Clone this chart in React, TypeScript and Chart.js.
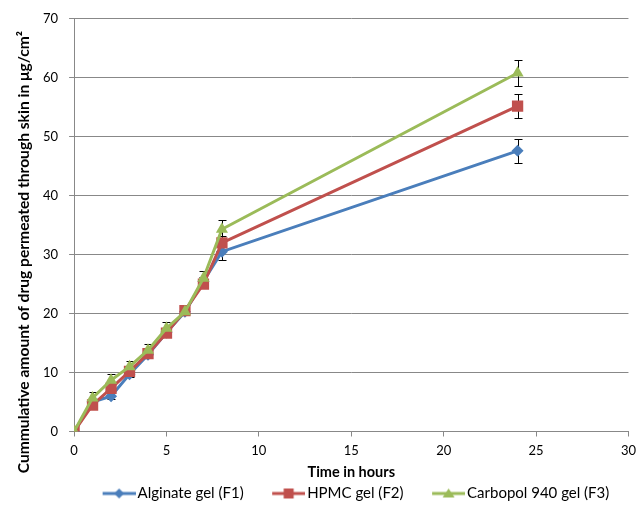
import React, { useEffect, useRef } from "react";
import { Chart, registerables } from "chart.js";

Chart.register(...registerables);

const hours = [0, 1, 2, 3, 4, 5, 6, 7, 8, 24];
const alginate = [0, 5.0, 6.0, 9.7, 13.0, 16.8, 20.3, 25.5, 30.5, 47.6];
const hpmc = [0, 4.5, 7.3, 10.2, 13.2, 16.7, 20.5, 25.0, 32.0, 55.2];
const carbopol = [0, 5.7, 8.7, 11.0, 13.8, 17.5, 20.3, 26.0, 34.3, 60.8];
const alginateErr = [0, 0.5, 0.5, 0.5, 0.5, 0.6, 0.5, 0.7, 1.4, 2.0];
const hpmcErr = [0, 0.5, 0.5, 0.5, 0.5, 0.6, 0.5, 0.7, 1.2, 2.0];
const carbopolErr = [0, 1.0, 1.0, 1.0, 1.0, 1.0, 0.6, 1.2, 1.6, 2.2];
const seriesNames = ["Alginate gel (F1)", "HPMC gel (F2)", "Carbopol 940 gel (F3)"];
const xTitle = "Time in hours";
const yTitle = "Cummulative amount of drug permeated through skin in μg/cm²";

const COLORS = ["#4A7EBB", "#C0504D", "#9BBB59"];
const STYLES = ["rectRot", "rect", "triangle"];
const RADII = [6, 8, 7];
const FONT = "Lato, 'Open Sans', sans-serif";

const BOX_W = 52;
const ICON_W = 63;
const ICON_VIS = 33;

function legendIcon(color: string, style: string): HTMLCanvasElement {
  const c = document.createElement("canvas");
  c.width = ICON_W;
  c.height = 14;
  const g = c.getContext("2d")!;
  const x0 = ICON_W - ICON_VIS;
  g.strokeStyle = color;
  g.fillStyle = color;
  g.lineWidth = 3;
  g.beginPath();
  g.moveTo(x0, 7);
  g.lineTo(ICON_W, 7);
  g.stroke();
  g.beginPath();
  const m = x0 + ICON_VIS / 2;
  if (style === "rectRot") {
    g.moveTo(m, 2);
    g.lineTo(m + 5, 7);
    g.lineTo(m, 12);
    g.lineTo(m - 5, 7);
  } else if (style === "rect") {
    g.rect(m - 5, 2, 10, 10);
  } else {
    g.moveTo(m, 2);
    g.lineTo(m + 6, 11);
    g.lineTo(m - 6, 11);
  }
  g.closePath();
  g.fill();
  return c;
}

const errorBars = {
  id: "errorBars",
  beforeDatasetsDraw(chart: any) {
    const errs = [alginateErr, hpmcErr, carbopolErr];
    const ctx = chart.ctx;
    const xs = chart.scales.x;
    const ys = chart.scales.y;
    ctx.save();
    ctx.strokeStyle = "#000";
    ctx.lineWidth = 1;
    chart.data.datasets.forEach((ds: any, i: number) => {
      ds.data.forEach((p: any, j: number) => {
        const e = errs[i][j];
        if (!e) return;
        const x = Math.round(xs.getPixelForValue(p.x)) + 0.5;
        const y1 = Math.round(ys.getPixelForValue(p.y + e)) + 0.5;
        const y2 = Math.round(ys.getPixelForValue(p.y - e)) + 0.5;
        ctx.beginPath();
        ctx.moveTo(x, y1);
        ctx.lineTo(x, y2);
        ctx.moveTo(x - 4, y1);
        ctx.lineTo(x + 4, y1);
        ctx.moveTo(x - 4, y2);
        ctx.lineTo(x + 4, y2);
        ctx.stroke();
      });
    });
    ctx.restore();
  },
};

const yAxisTitle = {
  id: "yAxisTitle",
  afterDraw(chart: any) {
    const ctx = chart.ctx;
    const ys = chart.scales.y;
    ctx.save();
    ctx.fillStyle = "#000";
    ctx.font = `bold 15.6px ${FONT}`;
    ctx.textAlign = "center";
    ctx.textBaseline = "middle";
    const cy = (ys.top + ys.bottom) / 2 + 27;
    ctx.translate(24, cy);
    ctx.rotate(-Math.PI / 2);
    ctx.fillText(yTitle, 0, 0);
    ctx.restore();
  },
};

export default function App() {
  const ref = useRef<HTMLCanvasElement>(null);
  useEffect(() => {
    const vals = [alginate, hpmc, carbopol];
    const chart = new Chart(ref.current!, {
      type: "line",
      data: {
        datasets: vals.map((v, i) => ({
          label: seriesNames[i],
          data: hours.map((h, j) => ({ x: h, y: v[j] })),
          borderColor: COLORS[i],
          backgroundColor: COLORS[i],
          borderWidth: 3,
          pointStyle: STYLES[i] as any,
          pointRadius: RADII[i],
          pointBorderWidth: 0,
          order: 3 - i,
          tension: 0,
        })),
      },
      options: {
        animation: false,
        responsive: false,
        layout: { padding: { left: 32, right: 14, top: 9, bottom: -4 } },
        scales: {
          x: {
            type: "linear",
            min: 0,
            max: 30,
            ticks: { stepSize: 5, color: "#000", font: { family: FONT, size: 13, lineHeight: 1 }, padding: 8 },
            grid: { display: true, drawOnChartArea: false, drawTicks: true, tickLength: 5, color: "#888" },
            border: { color: "#888", width: 1 },
            title: { display: true, text: xTitle, color: "#000", font: { family: FONT, size: 14.5, weight: "bold", lineHeight: 1 }, padding: { top: 0, bottom: 2 } },
          },
          y: {
            min: 0,
            max: 70,
            ticks: { stepSize: 10, color: "#000", font: { family: FONT, size: 13 }, padding: 11 },
            grid: { color: "#888", drawTicks: true, tickLength: 5 },
            border: { color: "#888", width: 1 },
          },
        },
        plugins: {
          tooltip: { enabled: false },
          legend: {
            position: "bottom",
            fullSize: false,
            align: "start",
            labels: {
              usePointStyle: true,
              pointStyleWidth: BOX_W,
              color: "#000",
              padding: 4,
              font: { family: FONT, size: 15 },
              sort: (a: any, b: any) => a.datasetIndex - b.datasetIndex,
              generateLabels: (c: any) => {
                const base = (Chart.defaults.plugins.legend.labels as any).generateLabels(c);
                return base.map((l: any) => ({
                  ...l,
                  pointStyle: legendIcon(COLORS[l.datasetIndex], STYLES[l.datasetIndex]),
                }));
              },
            },
          },
        },
      },
      plugins: [errorBars, yAxisTitle],
    });
    return () => chart.destroy();
  }, []);
  return (
    <div style={{ position: "fixed", left: 0, top: 0, width: 644, height: 507, background: "#fff" }}>
      <canvas ref={ref} width={644} height={507} />
    </div>
  );
}
